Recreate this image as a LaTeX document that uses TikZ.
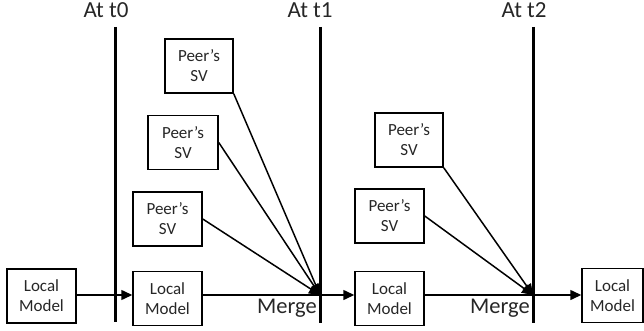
\documentclass[tikz,border=0pt]{standalone}
\usepackage{fontspec}
\setmainfont{Carlito}
\usetikzlibrary{arrows.meta}
\definecolor{txtgray}{HTML}{262626}
\begin{document}
\begin{tikzpicture}[x=1pt, y=-1pt,
    box/.style = {draw, line width=1.5pt, minimum width=68pt, minimum height=54pt, inner sep=0pt,
                  align=center, text=txtgray, font=\fontsize{17}{20}\selectfont},
    timeline/.style = {line width=3pt},
    lbl/.style = {anchor=base, text=txtgray, font=\fontsize{23}{26}\selectfont},
    conn/.style = {line width=1.5pt, -{Triangle[length=11pt,width=10pt]}}]
    \useasboundingbox (0,0) rectangle (644,331);
    % time lines
    \draw[timeline] (115,27) -- (115,322);
    \draw[timeline] (320,27) -- (320,323);
    \draw[timeline] (533,27) -- (533,323);
    \node[lbl] (a0) at (106,18) {At t0};
    \node[lbl] (a1) at (310,18) {At t1};
    \node[lbl] (a2) at (524,18) {At t2};
    % models
    \node[box, minimum width=69pt] (l1) at (41.5,296) {Local\\Model};
    \node[box, minimum width=69pt] (l2) at (167.5,298.5) {Local\\Model};
    \node[box, minimum width=69pt] (l3) at (389.5,298.5) {Local\\Model};
    \node[box, minimum width=61pt] (l4) at (612.5,295.5) {Local\\Model};
    % peers
    \node[box] (p1) at (199,66) {Peer’s\\SV};
    \node[box, minimum width=70pt] (p2) at (183,142.5) {Peer’s\\SV};
    \node[box, minimum width=69pt] (p3) at (167.5,219) {Peer’s\\SV};
    \node[box] (p4) at (409,140) {Peer’s\\SV};
    \node[box, minimum width=69pt] (p5) at (389.5,216) {Peer’s\\SV};
    % merge points
    \coordinate (m1) at (320,295);
    \coordinate (m2) at (533,295);
    \node[lbl, font=\fontsize{22.5}{26}\selectfont] (g1) at (287,313) {Merge};
    \node[lbl, font=\fontsize{22.5}{26}\selectfont] (g2) at (500,313) {Merge};
    \draw[conn] (l1.east |- m1) -- (l2.west |- m1);
    \draw[line width=1.5pt] (l2.east |- m1) -- (m1);
    \draw[conn] (m1) -- (l3.west |- m1);
    \draw[line width=1.5pt] (l3.east |- m2) -- (m2);
    \draw[conn] (m2) -- (l4.west |- m2);
    \draw[conn] (p1.south east) -- (m1);
    \draw[conn] (p2.east) -- (m1);
    \draw[conn] (p3.east) -- (m1);
    \draw[conn] (p4.south east) -- (m2);
    \draw[conn] (p5.east) -- (m2);
\end{tikzpicture}
\end{document}
